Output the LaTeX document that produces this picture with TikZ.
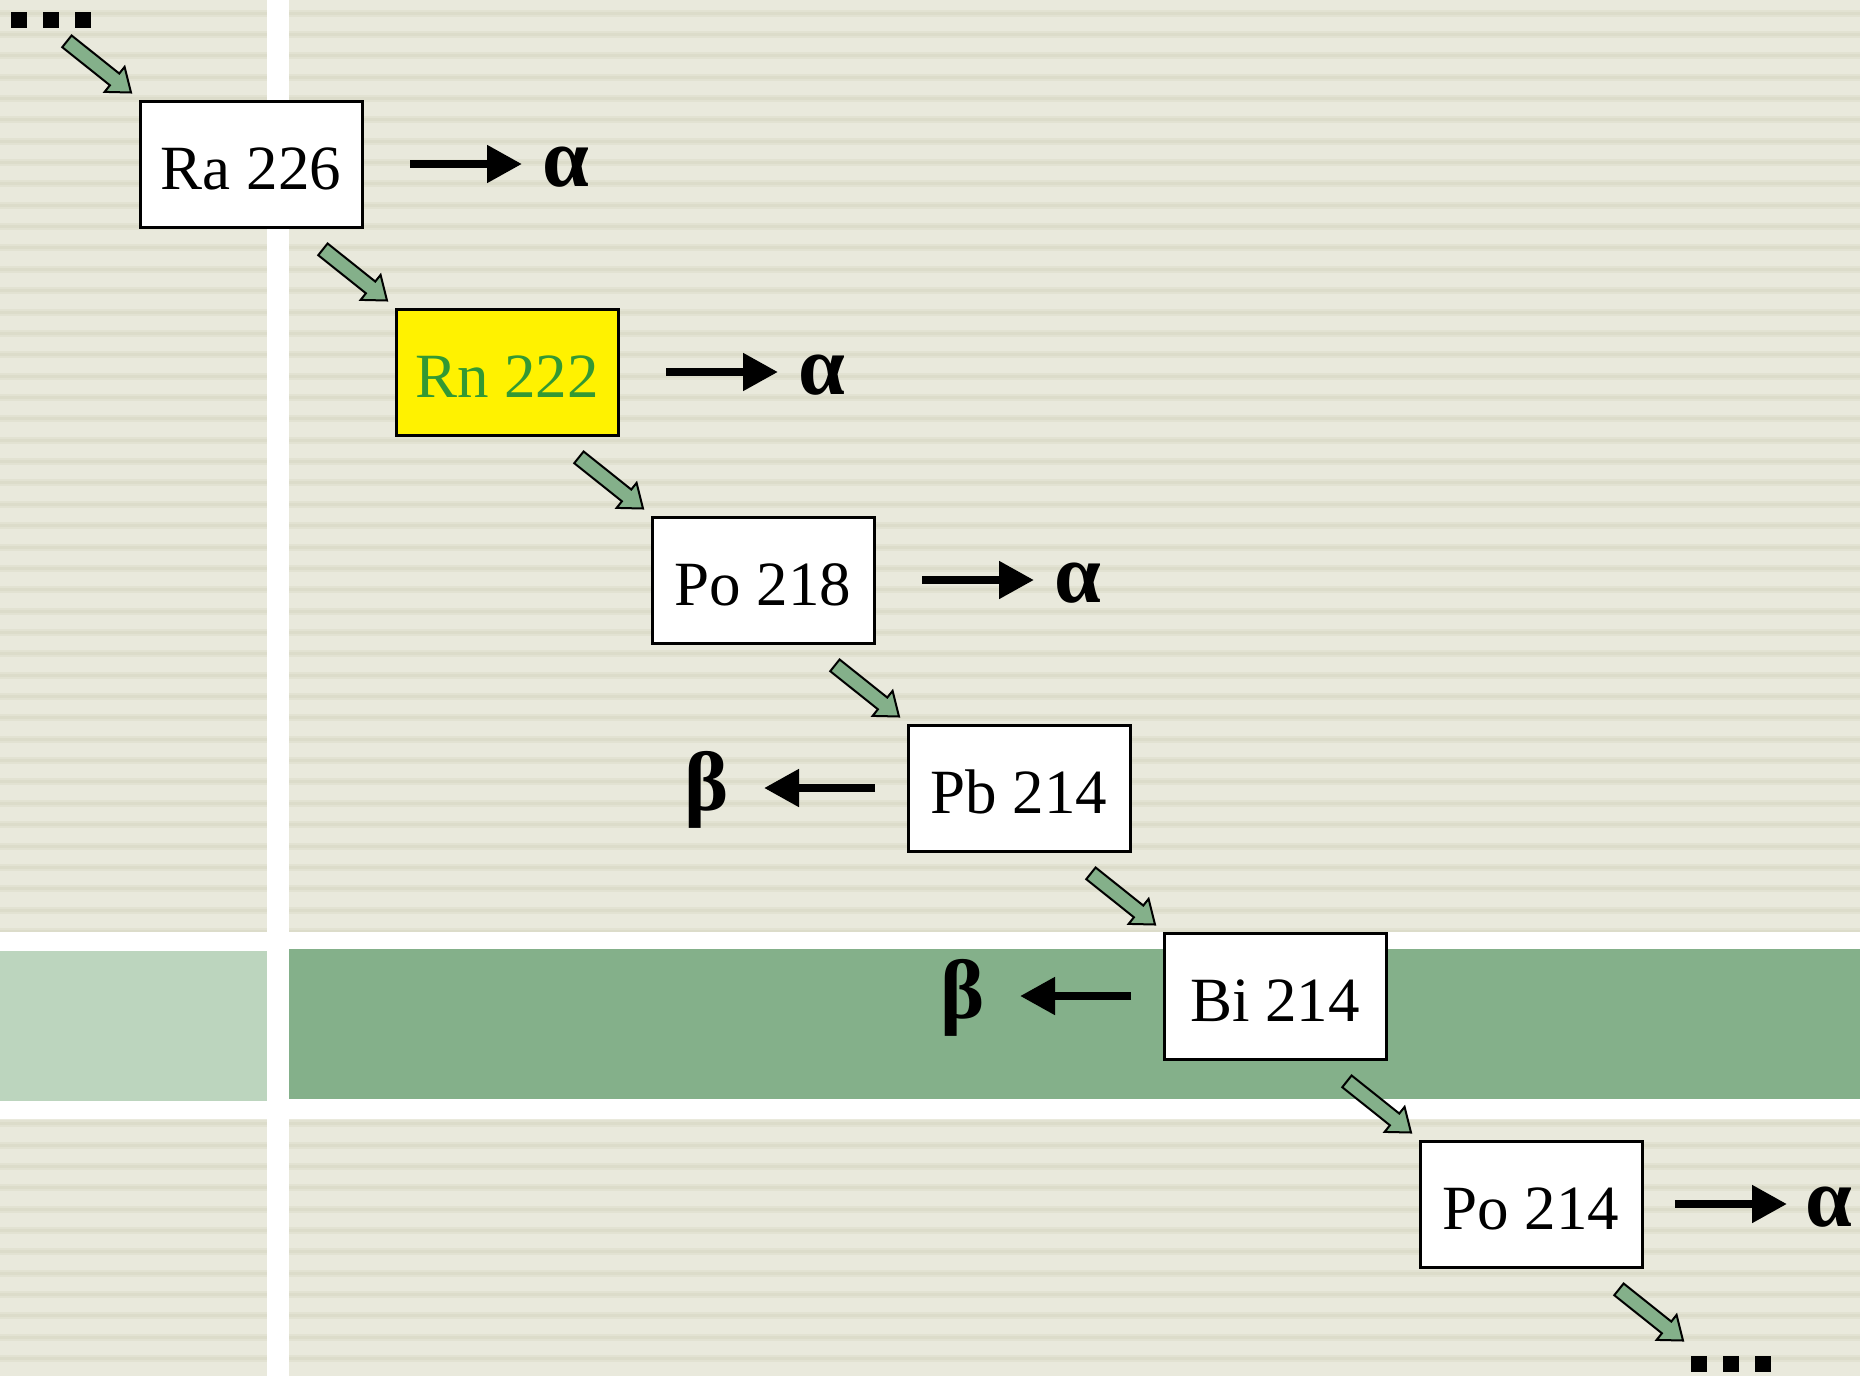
\documentclass[tikz,border=0pt]{standalone}
\usepackage{fontspec}
\setmainfont{Liberation Serif}
\usetikzlibrary{arrows.meta,calc}
\definecolor{beige}{HTML}{E9E9DC}
\definecolor{stripe}{HTML}{DCDCCA}
\definecolor{stripelt}{HTML}{E2E2D2}
\definecolor{dgreen}{HTML}{84B08A}
\definecolor{lgreen}{HTML}{BCD5BE}
\definecolor{rntext}{HTML}{339933}
\newcommand\garr[1]{%
  \begin{scope}[shift={($(#1)+(-7.5,-7)$)},rotate=-38.6]
    \draw[garrow] (-82,-7.5) -- (-21,-7.5) -- (-21,-16) -- (0,0) -- (-21,16) -- (-21,7.5) -- (-82,7.5) -- cycle;
  \end{scope}}
\begin{document}
\begin{tikzpicture}[x=1pt,y=-1pt,
  nuc/.style={draw=black,line width=3pt,fill=white,minimum width=222pt,minimum height=126pt,inner sep=0pt,text height=50pt,text depth=0pt,font=\fontsize{63}{63}\selectfont},
  ptcl/.style={font=\fontsize{84}{84}\selectfont\bfseries,inner sep=0pt},
  blk/.style={line width=8pt,-{Triangle[length=35pt,width=36pt]}},
  garrow/.style={draw=black,line width=2pt,fill=dgreen,line join=miter}]
\useasboundingbox (0,0) rectangle (1860,1376);
% background
\fill[beige] (0,0) rectangle (1860,1376);
\foreach \k in {0,...,63}{
  \pgfmathsetmacro\yy{13+21.36*\k}
  \fill[stripelt] (0,\yy-3.5) rectangle (1860,\yy+3.5);
  \fill[stripe] (0,\yy-1.5) rectangle (1860,\yy+1.5);
}
\fill[white] (267,0) rectangle (289,1376);
\fill[white] (0,932) rectangle (1860,1119);
\fill[lgreen] (0,951) rectangle (267,1101);
\fill[dgreen] (289,949) rectangle (1860,1099);
% nuclides
\node[nuc] (ra) at (251,164) {Ra 226};
\node[nuc,fill=yellow,text=rntext] (rn) at (507,372) {Rn 222};
\node[nuc] (po1) at (763,580) {Po 218};
\node[nuc] (pb) at (1019,788) {Pb 214};
\node[nuc] (bi) at (1275,996) {Bi 214};
\node[nuc] (po2) at (1531,1204) {Po 214};
\coordinate (nxt) at (1690.5,1347.5);
% particles
\node[ptcl] (a1) at ($(ra.center)+(315,3)$) {α};
\node[ptcl] (a2) at ($(rn.center)+(315,3)$) {α};
\node[ptcl] (a3) at ($(po1.center)+(315,3)$) {α};
\node[ptcl] (b1) at ($(pb.center)+(-312,2)$) {β};
\node[ptcl] (b2) at ($(bi.center)+(-312,2)$) {β};
\node[ptcl] (a4) at ($(po2.center)+(298,3)$) {α};
% emission arrows
\draw[blk] ($(ra.east)+(46.5,0)$) -- ($(ra.east)+(158.5,0)$);
\draw[blk] ($(rn.east)+(46.5,0)$) -- ($(rn.east)+(158.5,0)$);
\draw[blk] ($(po1.east)+(46.5,0)$) -- ($(po1.east)+(158.5,0)$);
\draw[blk] ($(pb.west)+(-31.5,0)$) -- ($(pb.west)+(-142.5,0)$);
\draw[blk] ($(bi.west)+(-31.5,0)$) -- ($(bi.west)+(-142.5,0)$);
\draw[blk] ($(po2.east)+(31.5,0)$) -- ($(po2.east)+(143.5,0)$);
% decay chain arrows
\garr{ra.north west}
\garr{rn.north west}
\garr{po1.north west}
\garr{pb.north west}
\garr{bi.north west}
\garr{po2.north west}
\garr{nxt}
% ellipses
\foreach \x in {11,43,75} \fill (\x,12) rectangle ++(16,16);
\foreach \x in {1691,1723,1755} \fill (\x,1356) rectangle ++(16,16);
\end{tikzpicture}
\end{document}
